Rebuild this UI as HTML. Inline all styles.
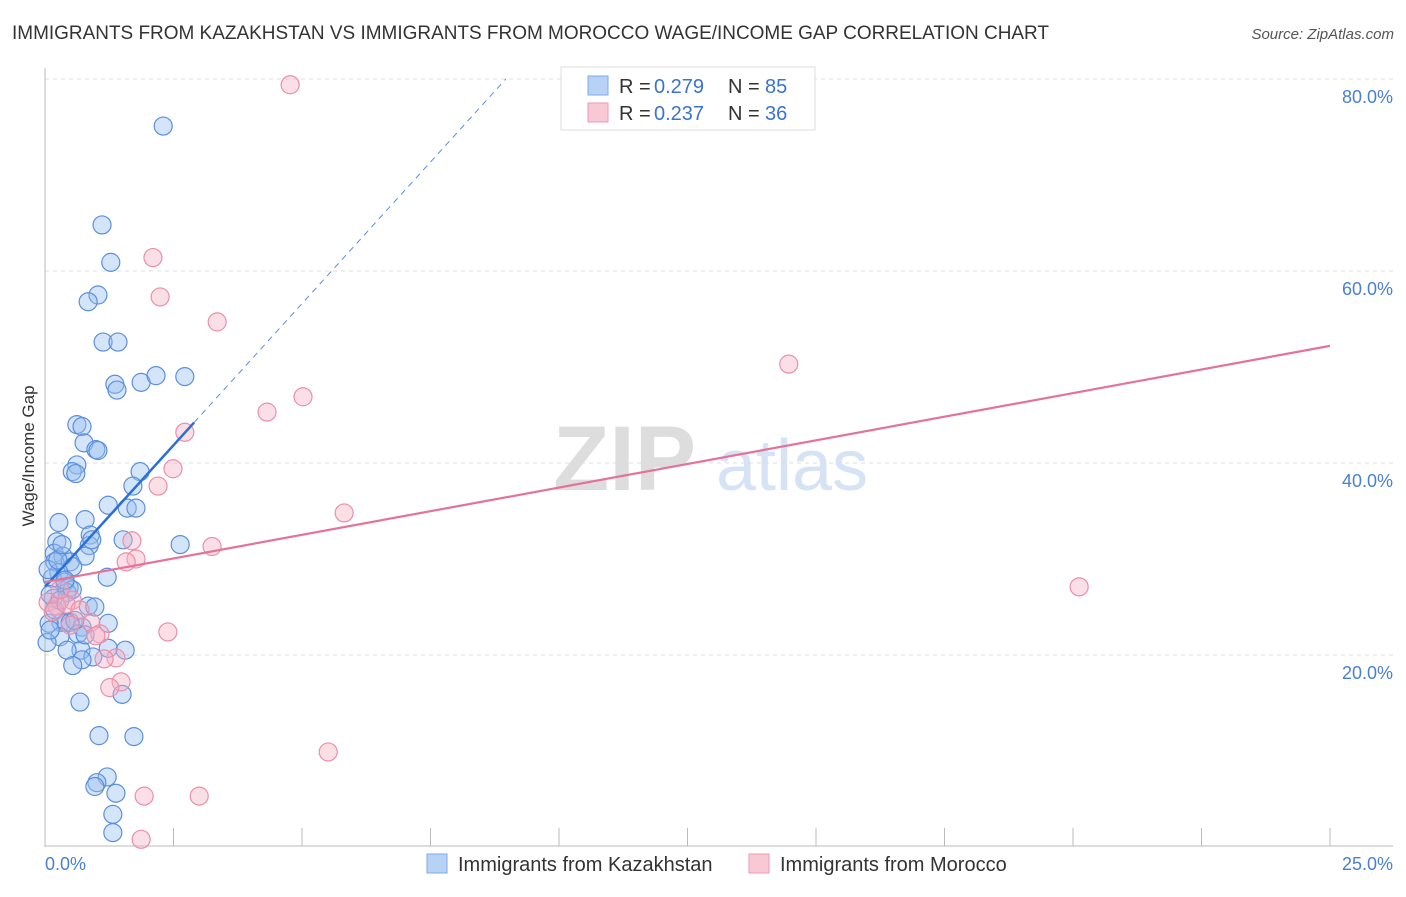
<!DOCTYPE html>
<html><head><meta charset="utf-8"><style>
body{margin:0;background:#fff;font-family:"Liberation Sans",sans-serif}
svg text{font-family:"Liberation Sans",sans-serif}
</style></head><body>
<svg id="chart" width="1406" height="892" xmlns="http://www.w3.org/2000/svg">
<text x="12" y="39" font-size="19" fill="#333" textLength="1037" lengthAdjust="spacingAndGlyphs">IMMIGRANTS FROM KAZAKHSTAN VS IMMIGRANTS FROM MOROCCO WAGE/INCOME GAP CORRELATION CHART</text>
<text x="1394" y="39" font-size="15" fill="#555" text-anchor="end" font-style="italic">Source: ZipAtlas.com</text>
<g>
<text x="553" y="490" font-size="92" fill="#ddd" font-family="Liberation Serif" font-weight="bold">ZIP</text>
<text x="716" y="490" font-size="72" fill="#d6e3f5">atlas</text>
</g>
<g id="grid"></g>
<line x1="45" y1="68" x2="45" y2="847" stroke="#bbb"/>
<line x1="45" y1="846" x2="1393" y2="846" stroke="#bbb"/>
<text transform="translate(34,456) rotate(-90)" font-size="17" fill="#333" text-anchor="middle">Wage/Income Gap</text>
<text x="45" y="870" font-size="18" fill="#4a7fd4">0.0%</text>
<text x="1393" y="870" font-size="18" fill="#4a7fd4" text-anchor="end">25.0%</text>
<g id="ticks"></g>
<g id="pts"></g>
<g id="trends"></g>
<g>
<rect x="561" y="67" width="254" height="63" fill="#fff" stroke="#ddd"/>
<rect x="588" y="76" width="20" height="19" fill="#b8d2f5" stroke="#7fa9e6"/>
<rect x="588" y="103" width="20" height="19" fill="#f9c8d6" stroke="#ef9ab4"/>
<text x="619" y="93" font-size="20" fill="#333">R =</text>
<text x="654" y="93" font-size="20" fill="#3a73cf">0.279</text>
<text x="728" y="93" font-size="20" fill="#333">N =</text>
<text x="765" y="93" font-size="20" fill="#3a73cf">85</text>
<text x="619" y="120" font-size="20" fill="#333">R =</text>
<text x="654" y="120" font-size="20" fill="#3a73cf">0.237</text>
<text x="728" y="120" font-size="20" fill="#333">N =</text>
<text x="765" y="120" font-size="20" fill="#3a73cf">36</text>
</g>
<g>
<rect x="427" y="854" width="20" height="19" fill="#b8d2f5" stroke="#7fa9e6"/>
<text x="458" y="871" font-size="20" fill="#333">Immigrants from Kazakhstan</text>
<rect x="749" y="854" width="20" height="19" fill="#f9c8d6" stroke="#ef9ab4"/>
<text x="780" y="871" font-size="20" fill="#333">Immigrants from Morocco</text>
</g>
</svg>
<script>
const yTicks=[20,40,60,80];
const yTickLabels=["20.0%","40.0%","60.0%","80.0%"];
const xTicks=[0,2.5,5,7.5,10,12.5,15,17.5,20,22.5,25];
const kazX=[2.30,1.11,1.28,1.03,0.84,1.13,1.42,1.36,1.40,1.87,2.16,2.72,0.62,0.72,0.76,0.99,1.03,0.62,0.53,0.60,1.85,1.71,1.23,1.60,1.77,0.78,0.27,0.88,0.23,0.86,1.52,2.63,0.18,0.35,0.78,0.19,0.49,0.54,0.27,1.21,0.14,0.39,0.47,0.43,0.16,0.84,0.97,0.31,0.41,0.49,1.23,0.72,0.08,0.64,0.29,0.04,1.23,1.56,0.70,0.43,0.93,0.72,0.54,1.50,0.68,1.05,1.73,1.21,1.01,0.97,1.38,1.32,1.32,0.10,0.06,0.19,0.29,0.53,0.25,0.33,0.10,0.78,0.58,0.91,0.39];
const kazY=[75.1,64.8,60.9,57.5,56.8,52.6,52.6,48.2,47.6,48.4,49.1,49.0,44.0,43.8,42.1,41.4,41.3,39.8,39.1,38.9,39.1,37.6,35.6,35.3,35.3,34.1,33.8,32.5,31.8,31.4,32.0,31.5,30.6,30.3,30.3,29.7,29.7,29.2,28.6,28.1,28.0,27.6,27.0,26.5,25.9,25.1,25.0,23.4,23.4,23.4,23.3,22.9,23.3,22.2,21.9,21.3,20.7,20.5,20.5,20.5,19.8,19.5,18.9,15.9,15.1,11.6,11.5,7.3,6.7,6.3,5.6,3.4,1.5,26.3,28.9,24.7,25.7,26.8,29.9,31.5,22.6,22.1,23.6,32.0,27.8];
const morX=[4.77,2.10,2.24,3.35,14.47,4.32,5.02,2.72,2.49,2.20,5.82,3.25,1.69,1.77,1.58,20.12,0.53,0.06,0.23,0.16,0.41,0.89,1.07,0.99,2.39,1.38,1.15,1.48,1.26,5.51,1.93,3.00,1.87,0.29,0.68,0.49];
const morY=[79.4,61.4,57.3,54.7,50.3,45.3,46.9,43.2,39.4,37.6,34.8,31.3,31.9,30.0,29.7,27.1,25.7,25.5,25.1,24.5,25.3,23.4,22.2,22.0,22.4,19.7,19.6,17.2,16.6,9.9,5.3,5.3,0.8,26.8,24.7,23.1];
const kazTrend=[27.1,5.9];
const morTrend=[27.6,0.984];
const NS="http://www.w3.org/2000/svg";
const sx=v=>45+v*51.4;
const sy=v=>847-v*9.6;
function mk(tag,attrs,parent){const e=document.createElementNS(NS,tag);for(const k in attrs)e.setAttribute(k,attrs[k]);parent.appendChild(e);return e;}
const grid=document.getElementById('grid');
yTicks.forEach((t,i)=>{
 const l=mk('line',{x1:45,x2:1393,y1:sy(t),y2:sy(t),stroke:'#ddd','stroke-dasharray':'4,4'},grid);
 
 
 const tx=mk('text',{x:1393,y:sy(t)+24,'font-size':18,fill:'#4a7fd4','text-anchor':'end'},grid);
 tx.textContent=yTickLabels[i];
 
 
});
const tk=document.getElementById('ticks');
xTicks.forEach(t=>{
 const l=mk('line',{x1:sx(t),x2:sx(t),y1:828,y2:846,stroke:'#bbb'},tk);
 
 
});
const pts=document.getElementById('pts');
kazX.forEach((x,i)=>{
 const c=mk('circle',{cx:sx(x),cy:sy(kazY[i]),r:9,fill:'rgba(150,190,240,0.4)',stroke:'#5b8fdc','stroke-width':1.2},pts);
 
 
});
morX.forEach((x,i)=>{
 const c=mk('circle',{cx:sx(x),cy:sy(morY[i]),r:9,fill:'rgba(246,175,195,0.4)',stroke:'#ea8faa','stroke-width':1.2},pts);
 
 
});
const tr=document.getElementById('trends');
const kf=x=>kazTrend[0]+kazTrend[1]*x, mf=x=>morTrend[0]+morTrend[1]*x;
const xEnd=(80-kazTrend[0])/kazTrend[1];
const kd=mk('line',{x1:sx(2.9),y1:sy(kf(2.9)),x2:sx(xEnd),y2:sy(kf(xEnd)),stroke:'#5b8fdc','stroke-width':1,'stroke-dasharray':'6,5'},tr);


const ks=mk('line',{x1:sx(0),y1:sy(kf(0)),x2:sx(2.9),y2:sy(kf(2.9)),stroke:'#2a6fd8','stroke-width':2.5},tr);


const ms=mk('line',{x1:sx(0),y1:sy(mf(0)),x2:sx(25),y2:sy(mf(25)),stroke:'#e4739a','stroke-width':2.2},tr);


</script>
</body></html>
